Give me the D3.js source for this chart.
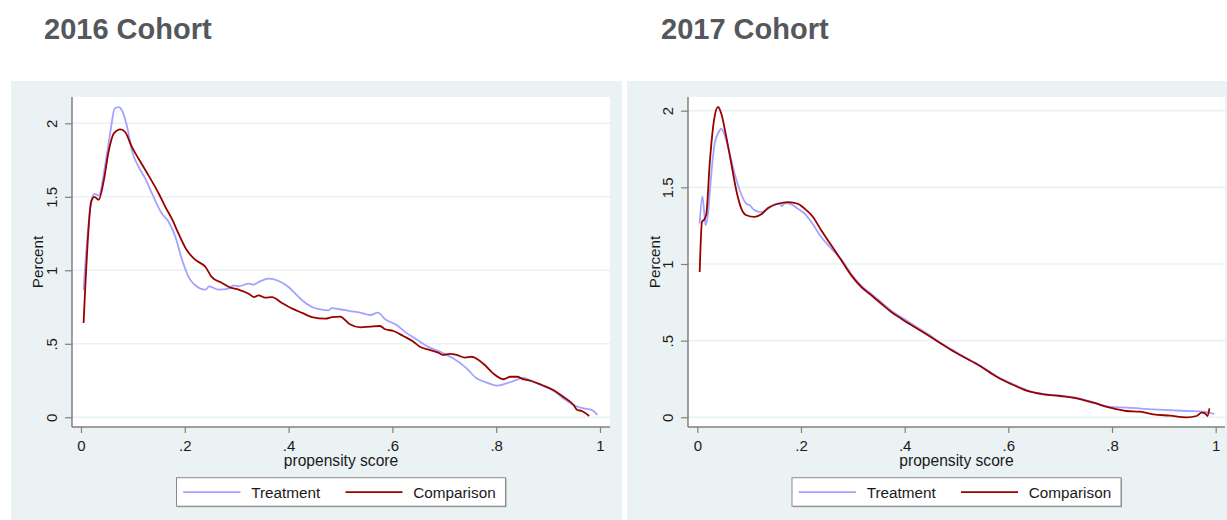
<!DOCTYPE html>
<html>
<head>
<meta charset="utf-8">
<script src="https://cdn.jsdelivr.net/npm/d3@7"></script>
<style>
  html, body { margin: 0; padding: 0; background: #ffffff; }
  svg { display: block; font-family: "Liberation Sans", Arial, sans-serif; }
</style>
</head>
<body>
<svg id="chart" width="1227" height="520"></svg>
<script>
// ---------- data ----------
const panelTitles = ["2016 Cohort", "2017 Cohort"];
const seriesNames = ["Treatment", "Comparison"];
const xTickValues = [0, 0.2, 0.4, 0.6, 0.8, 1];
const xTickLabels = ["0", ".2", ".4", ".6", ".8", "1"];
const yTickValues = [0, 0.5, 1, 1.5, 2];
const yTickLabels = ["0", ".5", "1", "1.5", "2"];
const xAxisTitle = "propensity score";
const yAxisTitle = "Percent";

// 2016 cohort - Treatment
const ps2016T = [.005, .020, .026, .034, .047, .057, .065, .073, .079, .089, .098, .111, .124, .137, .156, .169, .182, .195, .2075, .220, .240, .247, .265, .285, .294, .304, .323, .332, .345, .362, .381, .400, .413, .426, .445, .464, .477, .483, .499, .518, .538, .557, .572, .586, .608, .628, .647, .666, .692, .717, .743, .762, .782, .801, .820, .839, .852, .871, .891, .910, .929, .949, .968, .984, .995];
const pct2016T = [.864, 1.476, 1.52, 1.51, 1.725, 1.952, 2.10, 2.11, 2.088, 1.975, 1.816, 1.703, 1.623, 1.521, 1.385, 1.329, 1.227, 1.068, .954, .898, .868, .891, .868, .875, .898, .891, .909, .902, .925, .943, .927, .886, .841, .796, .750, .732, .728, .743, .735, .723, .712, .696, .712, .667, .628, .571, .530, .485, .446, .401, .333, .265, .236, .215, .231, .254, .27, .242, .213, .181, .129, .084, .061, .05, .016];
// 2016 cohort - Comparison
const ps2016C = [.005, .020, .026, .034, .044, .053, .063, .076, .085, .098, .111, .130, .150, .1625, .175, .188, .204, .220, .240, .252, .272, .285, .304, .323, .333, .342, .355, .368, .387, .407, .426, .445, .471, .484, .499, .518, .538, .557, .576, .586, .602, .621, .640, .653, .672, .6885, .698, .711, .724, .740, .753, .766, .778, .794, .814, .827, .840, .852, .868, .888, .910, .929, .949, .956, .965, .979];
const pct2016C = [.641, 1.471, 1.499, 1.48, 1.612, 1.805, 1.93, 1.959, 1.941, 1.839, 1.759, 1.646, 1.521, 1.431, 1.351, 1.249, 1.136, 1.072, 1.022, .954, .914, .886, .868, .841, .818, .83, .814, .818, .778, .739, .71, .682, .671, .682, .685, .633, .612, .617, .621, .599, .587, .553, .515, .48, .458, .44, .424, .431, .424, .406, .412, .39, .356, .299, .259, .276, .276, .259, .247, .22, .186, .14, .084, .05, .043, .009];

// 2017 cohort - Treatment
const ps2017T = [.0046, .0097, .013, .016, .0206, .027, .0335, .0413, .0463, .0528, .0625, .0721, .0818, .0946, .101, .1107, .1235, .1364, .1493, .159, .1634, .1686, .1813, .194, .207, .22, .239, .2585, .2778, .297, .3164, .3357, .355, .3742, .3935, .419, .445, .4707, .4965, .5068, .5453, .5775, .6096, .6418, .6675, .70, .7318, .764, .796, .8283, .8796, .944, .976, .9974];
const pct2017T = [1.263, 1.441, 1.35, 1.252, 1.328, 1.589, 1.785, 1.861, 1.883, 1.84, 1.72, 1.589, 1.481, 1.393, 1.383, 1.35, 1.339, 1.361, 1.389, 1.396, 1.376, 1.398, 1.389, 1.361, 1.328, 1.274, 1.176, 1.10, 1.03, .935, .858, .805, .75, .695, .652, .598, .543, .482, .43, .41, .338, .268, .215, .17, .152, .141, .127, .098, .068, .063, .052, .041, .037, .0215];
// 2017 cohort - Comparison
const ps2017C = [.0046, .009, .0143, .0175, .0239, .0322, .040, .0463, .056, .0656, .0752, .0849, .0946, .1107, .1235, .1364, .1557, .175, .194, .207, .2232, .239, .2585, .2778, .297, .3164, .3357, .355, .3742, .3935, .419, .445, .4707, .4965, .5068, .5453, .5775, .6096, .6418, .6675, .70, .7318, .764, .796, .8283, .854, .8796, .912, .944, .963, .973, .9795, .984, .988];
const pct2017C = [.948, 1.274, 1.295, 1.328, 1.654, 1.937, 2.024, 1.98, 1.828, 1.654, 1.481, 1.361, 1.318, 1.307, 1.324, 1.365, 1.393, 1.404, 1.393, 1.361, 1.307, 1.22, 1.122, 1.024, .926, .85, .796, .741, .687, .643, .589, .535, .48, .426, .406, .335, .265, .211, .167, .15, .139, .124, .095, .063, .041, .037, .0196, .0105, 0, .0085, .03, .026, .0085, .0587];

// ---------- style ----------
const BG = "#eaf2f3";
const AXIS = "#808080";
const TEXT = "#1a1a1a";
const colTreat = "#a3a3ff";
const colComp = "#990000";

const svg = d3.select("#chart");

const panels = [
  { title: panelTitles[0], titleX: 44, bg: [11, 81, 611, 439], plot: [72, 97, 610, 427],
    xr: [81, 600], yr: [417.3, 123.3], ytitleX: 43,
    series: [{ x: ps2016T, y: pct2016T, c: colTreat }, { x: ps2016C, y: pct2016C, c: colComp }] },
  { title: panelTitles[1], titleX: 661, bg: [627, 81, 600, 439], plot: [688, 97, 1225, 427],
    xr: [697.3, 1215.7], yr: [417.3, 110.7], ytitleX: 660,
    series: [{ x: ps2017T, y: pct2017T, c: colTreat }, { x: ps2017C, y: pct2017C, c: colComp }] }
];

panels.forEach(p => {
  const g = svg.append("g");
  // title
  g.append("text").attr("x", p.titleX).attr("y", 38.5)
    .attr("font-size", "29px").attr("font-weight", "bold").attr("fill", "#54575b")
    .text(p.title);
  // graph region
  g.append("rect").attr("x", p.bg[0]).attr("y", p.bg[1]).attr("width", p.bg[2]).attr("height", p.bg[3]).attr("fill", BG);
  const [L, T, R, B] = p.plot;
  g.append("rect").attr("x", L).attr("y", T).attr("width", R - L).attr("height", B - T).attr("fill", "#ffffff");

  const x = d3.scaleLinear().domain([0, 1]).range(p.xr);
  const y = d3.scaleLinear().domain([0, 2]).range(p.yr);

  // gridlines
  g.append("g").selectAll("line").data(yTickValues).join("line")
    .attr("x1", L).attr("x2", R)
    .attr("y1", d => y(d)).attr("y2", d => y(d))
    .attr("stroke", BG).attr("stroke-width", 1.6);

  // lines
  p.series.forEach(s => {
    const pts = s.x.map((v, i) => [v, s.y[i]]);
    const line = d3.line().x(d => x(d[0])).y(d => y(d[1])).curve(d3.curveMonotoneX);
    g.append("path").datum(pts).attr("d", line)
      .attr("fill", "none").attr("stroke", s.c).attr("stroke-width", 1.8)
      .attr("stroke-linejoin", "round");
  });

  // y axis
  const yAxis = d3.axisLeft(y).tickValues(yTickValues).tickSize(7)
    .tickFormat((d, i) => yTickLabels[i]);
  const ya = g.append("g").attr("transform", `translate(${L},0)`).call(yAxis);
  ya.select(".domain").attr("d", `M0,${T}V${B}`).attr("stroke", AXIS).attr("stroke-width", 1.5);
  ya.selectAll(".tick line").attr("stroke", AXIS).attr("stroke-width", 1.2);
  ya.selectAll(".tick text")
    .attr("x", null).attr("dy", null)
    .attr("transform", "translate(-15,0) rotate(-90)")
    .attr("text-anchor", "middle")
    .attr("font-size", "15px").attr("fill", TEXT)
    .attr("font-family", "'Liberation Sans', Arial, sans-serif");

  // x axis
  const xAxis = d3.axisBottom(x).tickValues(xTickValues).tickSize(6)
    .tickFormat((d, i) => xTickLabels[i]);
  const xa = g.append("g").attr("transform", `translate(0,${B})`).call(xAxis);
  xa.select(".domain").attr("d", `M${L},0H${R}`).attr("stroke", AXIS).attr("stroke-width", 1.5);
  xa.selectAll(".tick line").attr("stroke", AXIS).attr("stroke-width", 1.2);
  xa.selectAll(".tick text")
    .attr("y", 24).attr("dy", null)
    .attr("font-size", "15px").attr("fill", TEXT)
    .attr("font-family", "'Liberation Sans', Arial, sans-serif");

  // axis titles
  const cx = (L + R) / 2;
  g.append("text").attr("x", cx).attr("y", 466).attr("text-anchor", "middle")
    .attr("font-size", "15.6px").attr("fill", TEXT).text(xAxisTitle);
  g.append("text").attr("transform", `translate(${p.ytitleX},262) rotate(-90)`)
    .attr("text-anchor", "middle").attr("font-size", "15.2px").attr("fill", TEXT).text(yAxisTitle);

  // legend
  const lw = 329, lh = 28.5;
  const lx = cx - lw / 2, ly = 477.7;
  const lg = g.append("g").attr("transform", `translate(${lx},${ly})`);
  lg.append("rect").attr("x", 1).attr("y", 1).attr("width", lw).attr("height", lh).attr("fill", "#9a9a9a");
  lg.append("rect").attr("width", lw).attr("height", lh).attr("fill", "#ffffff")
    .attr("stroke", "#8a8a8a").attr("stroke-width", 1);
  const items = [
    { name: seriesNames[0], c: colTreat, x0: 6.7, x1: 64, tx: 74.7 },
    { name: seriesNames[1], c: colComp, x0: 169, x1: 226, tx: 236.7 }
  ];
  items.forEach(it => {
    lg.append("line").attr("x1", it.x0).attr("x2", it.x1).attr("y1", 14.5).attr("y2", 14.5)
      .attr("stroke", it.c).attr("stroke-width", 1.8);
    lg.append("text").attr("x", it.tx).attr("y", 20.3).attr("font-size", "15.3px").attr("fill", TEXT).text(it.name);
  });
});
</script>
</body>
</html>
